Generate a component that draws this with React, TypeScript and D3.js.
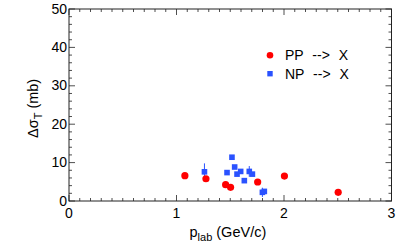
import React from "react";
import * as d3 from "d3";

const ppX = [1.078, 1.274, 1.457, 1.503, 1.755, 2.004, 2.504];
const ppY = [6.6, 5.8, 4.25, 3.55, 4.95, 6.5, 2.26];
const ppErr = [0, 0, 0, 0, 0, 0, 0];

const npX = [1.26, 1.47, 1.516, 1.541, 1.563, 1.597, 1.631, 1.677, 1.706, 1.799, 1.817];
const npY = [7.6, 7.4, 11.4, 8.85, 7.0, 7.7, 5.3, 7.7, 7.0, 2.26, 2.5];
const npErr = [2.2, 0, 0, 0, 0, 0, 0, 1.4, 0, 1.2, 0];

const xTicks = [0, 1, 2, 3];
const yTicks = [0, 10, 20, 30, 40, 50];
const legendLabels = ["PP --> X", "NP --> X"];

const W = 415, H = 248;
const L = 69, R = 391.5, T = 9, B = 201;
const RED = "#ff0000";
const BLUE = "#2a52ff";
const FONT = "'Liberation Sans', Arial, Helvetica, sans-serif";

export default function App() {
  const x = d3.scaleLinear().domain([0, 3]).range([L, R]);
  const y = d3.scaleLinear().domain([0, 50]).range([B, T]);
  const xMinor = d3.range(0, 3.0001, 0.1);
  const yMinor = d3.range(0, 50.0001, 2);
  const axisColor = "#222";

  return (
    <svg width={W} height={H} style={{ position: "absolute", left: 0, top: 0 }} fontFamily={FONT}>
      <rect x={0} y={0} width={W} height={H} fill="#fff" />
      {/* frame */}
      <rect x={L} y={T} width={R - L} height={B - T} fill="none" stroke={axisColor} strokeWidth={1} />
      {/* x ticks */}
      {xMinor.map((v, i) => {
        const major = Math.abs(v - Math.round(v)) < 1e-6;
        const len = major ? 6 : 3;
        return (
          <g key={"xm" + i}>
            <line x1={x(v)} x2={x(v)} y1={B} y2={B - len} stroke={axisColor} strokeWidth={0.8} />
            <line x1={x(v)} x2={x(v)} y1={T} y2={T + len} stroke={axisColor} strokeWidth={0.8} />
          </g>
        );
      })}
      {yMinor.map((v, i) => {
        const major = Math.abs(v % 10) < 1e-6;
        const len = major ? 6 : 3;
        return (
          <g key={"ym" + i}>
            <line x1={L} x2={L + len} y1={y(v)} y2={y(v)} stroke={axisColor} strokeWidth={0.8} />
            <line x1={R} x2={R - len} y1={y(v)} y2={y(v)} stroke={axisColor} strokeWidth={0.8} />
          </g>
        );
      })}
      {/* tick labels */}
      {xTicks.map((v) => (
        <text key={"xt" + v} x={x(v)} y={B + 17} textAnchor="middle" fontSize={14} fill="#000">
          {v}
        </text>
      ))}
      {yTicks.map((v) => (
        <text key={"yt" + v} x={L - 2} y={y(v) + 4.5} textAnchor="end" fontSize={14} fill="#000">
          {v}
        </text>
      ))}
      {/* axis titles */}
      <text x={189.5} y={237} fontSize={14.5} fill="#000">
        p<tspan dy={4} fontSize={11}>lab</tspan>
        <tspan dy={-4}> (GeV/c)</tspan>
      </text>
      <text transform={`translate(38,${138}) rotate(-90)`} fontSize={14.5} fill="#000">
        Δσ<tspan dy={4} fontSize={11}>T</tspan>
        <tspan dy={-4}> (mb)</tspan>
      </text>
      {/* error bars */}
      {npX.map((v, i) =>
        npErr[i] > 0 ? (
          <line key={"ne" + i} x1={x(v)} x2={x(v)} y1={y(npY[i] - npErr[i])} y2={y(npY[i] + npErr[i])} stroke={BLUE} strokeWidth={1} />
        ) : null
      )}
      {ppX.map((v, i) =>
        ppErr[i] > 0 ? (
          <line key={"pe" + i} x1={x(v)} x2={x(v)} y1={y(ppY[i] - ppErr[i])} y2={y(ppY[i] + ppErr[i])} stroke={RED} strokeWidth={1} />
        ) : null
      )}
      {/* points */}
      {ppX.map((v, i) => (
        <circle key={"pp" + i} cx={x(v)} cy={y(ppY[i])} r={3.6} fill={RED} />
      ))}
      {npX.map((v, i) => (
        <rect key={"np" + i} x={x(v) - 2.8} y={y(npY[i]) - 2.8} width={5.6} height={5.6} fill={BLUE} />
      ))}
      {/* legend */}
      <circle cx={270} cy={55.3} r={3.3} fill={RED} />
      <text x={285} y={60} fontSize={14} fill="#000" wordSpacing={5}>{legendLabels[0]}</text>
      <rect x={267.3} y={71} width={5.4} height={5.4} fill={BLUE} />
      <text x={285} y={78.5} fontSize={14} fill="#000" wordSpacing={5}>{legendLabels[1]}</text>
    </svg>
  );
}
